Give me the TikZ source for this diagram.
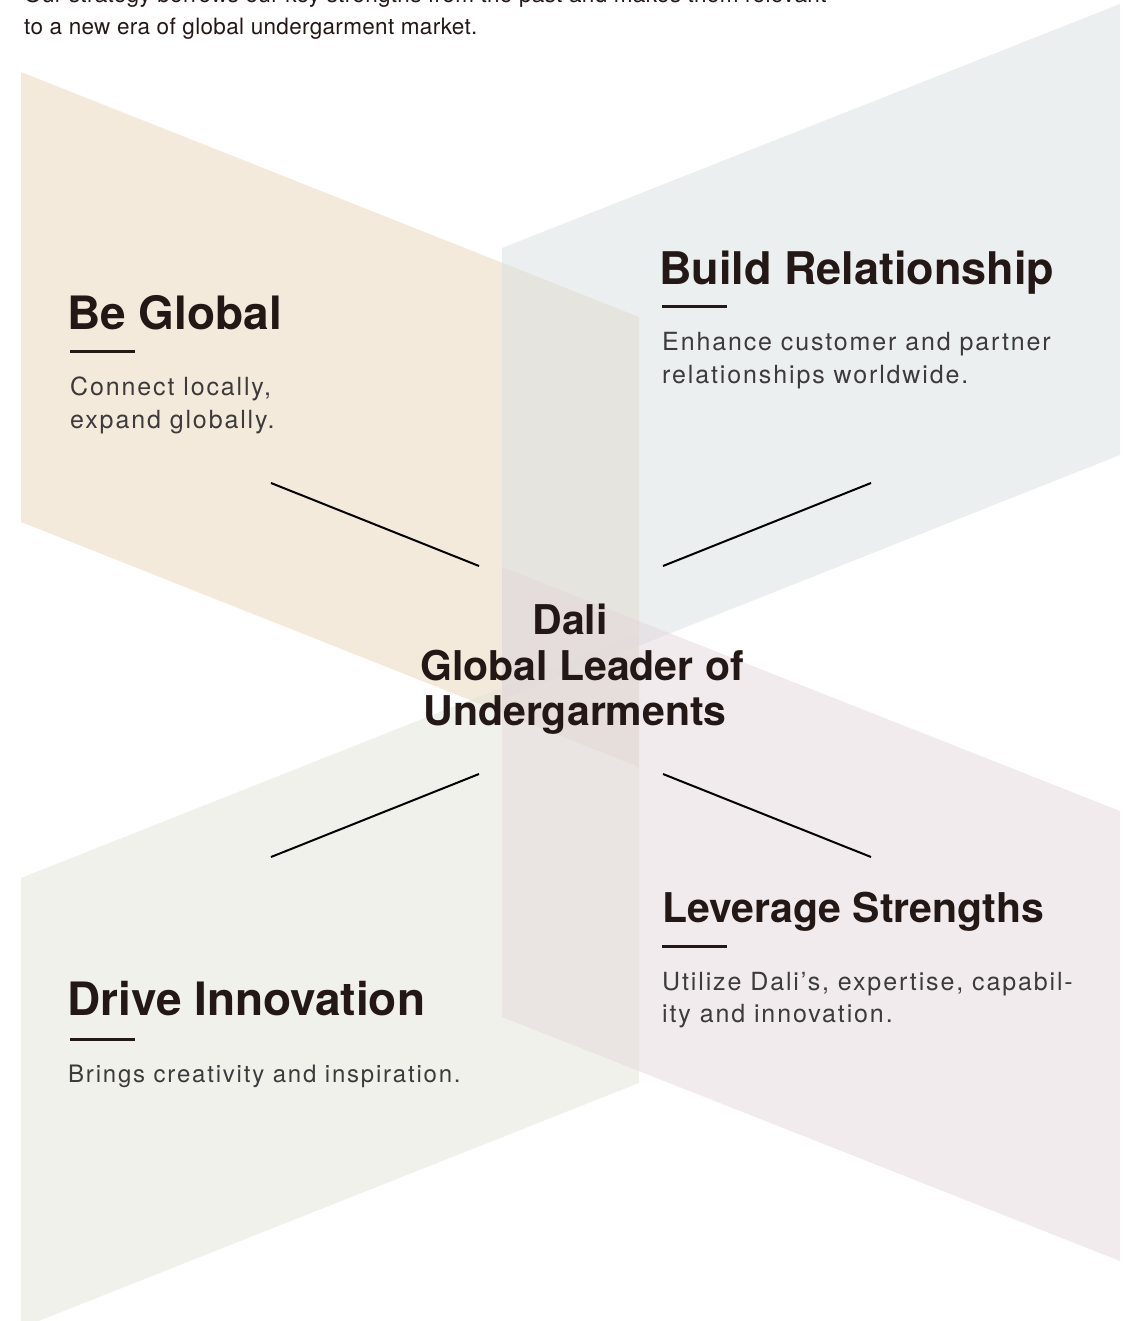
\documentclass[tikz,border=0pt]{standalone}
\usepackage{fontspec}
\setmainfont{TeX Gyre Heros}
\newfontfamily\descfont[LetterSpace=7.5]{TeX Gyre Heros}
\newfontfamily\introfont[LetterSpace=1.5]{TeX Gyre Heros}
\definecolor{inkc}{HTML}{231815}
\definecolor{descc}{HTML}{3C3A3A}
\definecolor{beigec}{HTML}{E9D5B9}
\definecolor{bluec}{HTML}{D9DFE1}
\definecolor{greenc}{HTML}{E3E3D9}
\definecolor{pinkc}{HTML}{E3D7DB}
\tikzset{
  panel/.style={fill opacity=0.5},
  toptext/.style={anchor=base west, inner sep=0, text=inkc, font=\introfont\fontsize{22.5}{27}\selectfont},
  title/.style={anchor=base west, inner sep=0, text=inkc, font=\fontsize{46}{54}\selectfont\bfseries},
  desc/.style={anchor=base west, inner sep=0, text=descc, font=\descfont\fontsize{25}{32}\selectfont},
  center/.style={anchor=base, inner sep=0, text=inkc, font=\fontsize{41}{46}\selectfont\bfseries},
  rule/.style={draw=inkc, line width=3pt},
  conn/.style={draw=black, line width=2pt}
}
\begin{document}
\begin{tikzpicture}[x=1pt,y=-1pt]
\useasboundingbox (0,0) rectangle (1138,1321);
\begin{scope}
\clip (0,0) rectangle (1138,1321);
\fill[beigec, panel] (21,72) -- (639,317) -- (639,767) -- (21,522) -- cycle;
\fill[bluec, panel] (502,248) -- (1120,4) -- (1120,455) -- (502,700) -- cycle;
\fill[greenc, panel] (21,878) -- (639,633) -- (639,1083) -- (21,1328) -- cycle;
\fill[pinkc, panel] (502,567) -- (1120,811) -- (1120,1261) -- (502,1017) -- cycle;

\node[toptext] (intro1) at (24,3) {Our strategy borrows our key strengths from the past and makes them relevant};
\node[toptext] (intro2) at (24,35) {to a new era of global undergarment market.};
\end{scope}

% titles
\node[title] (tglobal) at (67,329) {Be Global};
\node[title, font=\fontsize{45}{54}\selectfont\bfseries] (trel) at (659,284) {Build Relationship};
\node[title, font=\fontsize{41}{50}\selectfont\bfseries] (tlev) at (662,922) {Leverage Strengths};
\node[title] (tinno) at (67,1015) {Drive Innovation};

% rules
\draw[rule] (70,351) -- (135,351);
\draw[rule] (662,306) -- (727,306);
\draw[rule] (662,946) -- (727,946);
\draw[rule] (70,1039) -- (135,1039);

% descriptions
\node[desc] (dg1) at (70,395) {Connect locally,};
\node[desc] (dg2) at (70,428) {expand globally.};
\node[desc] (dr1) at (662,350) {Enhance customer and partner};
\node[desc] (dr2) at (662,383) {relationships worldwide.};
\node[desc] (dl1) at (662,990) {Utilize Dali’s, expertise, capabil-};
\node[desc] (dl2) at (662,1022) {ity and innovation.};
\node[desc, font=\descfont\fontsize{24}{32}\selectfont] (di1) at (68,1082) {Brings creativity and inspiration.};

% center
\node[center] (c1) at (570,634) {Dali};
\node[center] (c2) at (582,680) {Global Leader of};
\node[center] (c3) at (575,725) {Undergarments};

% connectors
\coordinate (a1) at (271,483); \coordinate (a2) at (479,566);
\coordinate (b1) at (871,483); \coordinate (b2) at (663,566);
\coordinate (e1) at (271,857); \coordinate (e2) at (479,774);
\coordinate (f1) at (871,857); \coordinate (f2) at (663,774);
\draw[conn] (a1) -- (a2);
\draw[conn] (b1) -- (b2);
\draw[conn] (e1) -- (e2);
\draw[conn] (f1) -- (f2);
\end{tikzpicture}
\end{document}
